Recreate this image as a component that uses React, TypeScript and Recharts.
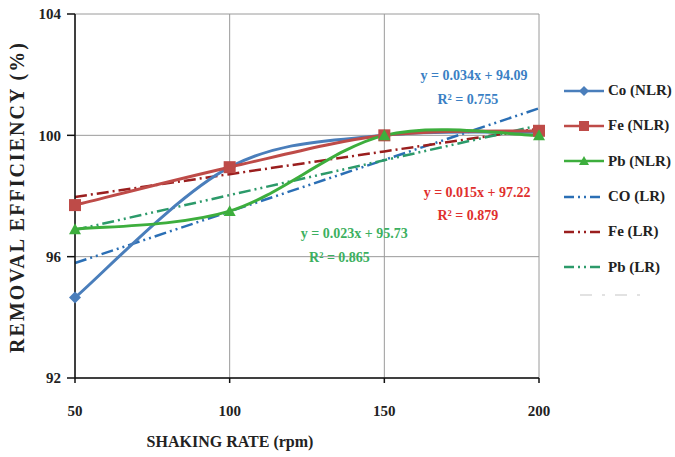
import React from 'react';
import { ComposedChart, Line, XAxis, YAxis, CartesianGrid, Legend, ReferenceDot } from 'recharts';

const shakingRate = [50, 100, 150, 200];
const coNLR = [94.65, 98.95, 100.0, 100.1];
const feNLR = [97.7, 98.95, 100.0, 100.15];
const pbNLR = [96.9, 97.5, 100.0, 100.0];
const coLR = [95.79, 97.49, 99.19, 100.89];
const feLR = [97.97, 98.72, 99.47, 100.22];
const pbLR = [96.88, 98.03, 99.18, 100.33];
const xTicks = [50, 100, 150, 200];
const yTicks = [92, 96, 100, 104];

const data = shakingRate.map((x, i) => ({
  x,
  coNLR: coNLR[i],
  feNLR: feNLR[i],
  pbNLR: pbNLR[i],
  coLR: coLR[i],
  feLR: feLR[i],
  pbLR: pbLR[i],
}));

const BLUE = '#4A7EBB';
const RED = '#BE4B48';
const GREEN = '#3DAE3D';
const CO_LR = '#2B6FB5';
const FE_LR = '#9A1E1E';
const PB_LR = '#2C9A6A';

const FONT = '"Liberation Serif", "Times New Roman", serif';

// Excel-style smoothed line (Catmull-Rom converted to cubic Bezier)
const excelCurve = (context: any) => {
  let pts: number[][] = [];
  return {
    areaStart() {},
    areaEnd() {},
    lineStart() {
      pts = [];
    },
    point(x: number, y: number) {
      pts.push([+x, +y]);
    },
    lineEnd() {
      if (!pts.length) return;
      context.moveTo(pts[0][0], pts[0][1]);
      for (let i = 0; i < pts.length - 1; i++) {
        const p0 = pts[i - 1] || pts[i];
        const p1 = pts[i];
        const p2 = pts[i + 1];
        const p3 = pts[i + 2] || pts[i + 1];
        const c1x = p1[0] + (p2[0] - p0[0]) / 6;
        const c1y = p1[1] + (p2[1] - p0[1]) / 6;
        const c2x = p2[0] - (p3[0] - p1[0]) / 6;
        const c2y = p2[1] - (p3[1] - p1[1]) / 6;
        context.bezierCurveTo(c1x, c1y, c2x, c2y, p2[0], p2[1]);
      }
    },
  };
};

const legendItems = [
  { label: 'Co (NLR)', color: BLUE, marker: 'diamond', dash: '' },
  { label: 'Fe (NLR)', color: RED, marker: 'square', dash: '' },
  { label: 'Pb (NLR)', color: GREEN, marker: 'triangle', dash: '' },
  { label: 'CO (LR)', color: CO_LR, marker: '', dash: '10 4 2 4 2 4' },
  { label: 'Fe (LR)', color: FE_LR, marker: '', dash: '10 4 2 4 2 4' },
  { label: 'Pb (LR)', color: PB_LR, marker: '', dash: '10 4 2 4 2 4' },
];

const MarkerShape = ({ kind, cx, cy, color, size }: any) => {
  const s = size;
  if (kind === 'diamond') {
    return <polygon points={`${cx},${cy - s} ${cx + s},${cy} ${cx},${cy + s} ${cx - s},${cy}`} fill={color} />;
  }
  if (kind === 'square') {
    return <rect x={cx - s} y={cy - s} width={2 * s} height={2 * s} fill={color} />;
  }
  if (kind === 'triangle') {
    return <polygon points={`${cx},${cy - s} ${cx + s},${cy + s * 0.8} ${cx - s},${cy + s * 0.8}`} fill={color} />;
  }
  return null;
};

const makeDot = (kind: string, color: string, size: number) => (props: any) => {
  const { cx, cy, index } = props;
  if (cx == null || cy == null) return <g key={index} />;
  return <g key={index}><MarkerShape kind={kind} cx={cx} cy={cy} color={color} size={size} /></g>;
};

const CustomLegend = () => (
  <div style={{ fontFamily: FONT, fontWeight: 'bold', fontSize: 15, color: '#222' }}>
    {legendItems.map((it) => (
      <div key={it.label} style={{ display: 'flex', alignItems: 'center', height: 35.3 }}>
        <svg width={44} height={16} style={{ marginRight: 2 }}>
          <line x1={2} y1={8} x2={42} y2={8} stroke={it.color} strokeWidth={2.5} strokeDasharray={it.dash || undefined} />
          {it.marker && <MarkerShape kind={it.marker} cx={22} cy={8} color={it.color} size={5} />}
        </svg>
        <span>{it.label}</span>
      </div>
    ))}
    <div style={{ display: 'flex', alignItems: 'center', height: 24 }}>
      <svg width={90} height={16}>
        <line x1={18} y1={6} x2={80} y2={6} stroke="#e2e2e2" strokeWidth={2} strokeDasharray="12 10 3 10" />
      </svg>
    </div>
  </div>
);

const eqLabel = (value: string, color: string) => ({
  value,
  position: 'center' as const,
  fill: color,
  fontFamily: FONT,
  fontWeight: 'bold',
  fontSize: 14,
});

export default function App() {
  return (
    <div style={{ position: 'absolute', left: 0, top: 0, background: '#fff' }}>
      <ComposedChart width={675} height={457} data={data} margin={{ top: 14, right: 23, bottom: 0, left: 0 }}>
        <CartesianGrid stroke="#9a9a9a" strokeWidth={1} />
        <XAxis
          dataKey="x"
          type="number"
          domain={[50, 200]}
          ticks={xTicks}
          height={79}
          stroke="#111"
          strokeWidth={1.5}
          tickSize={5}
          tickMargin={22}
          tick={{ fontFamily: FONT, fontWeight: 'bold', fontSize: 15, fill: '#222' }}
          label={{
            value: 'SHAKING RATE (rpm)',
            position: 'insideBottom',
            offset: 10,
            dx: -77,
            fontFamily: FONT,
            fontWeight: 'bold',
            fontSize: 16,
            fill: '#222',
          }}
        />
        <YAxis
          type="number"
          domain={[92, 104]}
          ticks={yTicks}
          stroke="#111"
          strokeWidth={1.5}
          tickSize={8}
          tickMargin={6}
          width={75}
          tick={{ fontFamily: FONT, fontWeight: 'bold', fontSize: 15, fill: '#222' }}
          label={{
            value: 'REMOVAL EFFICIENCY (%)',
            angle: -90,
            position: 'insideLeft',
            dx: 12,
            dy: 1,
            style: { textAnchor: 'middle', letterSpacing: 2 },
            fontFamily: FONT,
            fontWeight: 'bold',
            fontSize: 20,
            fill: '#222',
          }}
        />
        <Legend layout="vertical" align="right" verticalAlign="top" content={<CustomLegend />} wrapperStyle={{ left: 562, top: 73, width: 113 }} />
        <Line dataKey="coLR" stroke={CO_LR} strokeWidth={2.5} strokeDasharray="12 4 2 4 2 4" dot={false} isAnimationActive={false} legendType="none" />
        <Line dataKey="feLR" stroke={FE_LR} strokeWidth={2.5} strokeDasharray="12 4 2 4" dot={false} isAnimationActive={false} legendType="none" />
        <Line dataKey="pbLR" stroke={PB_LR} strokeWidth={2.5} strokeDasharray="12 4 2 4 2 4" dot={false} isAnimationActive={false} legendType="none" />
        <Line type={excelCurve as any} dataKey="coNLR" stroke={BLUE} strokeWidth={3} dot={makeDot('diamond', BLUE, 6)} isAnimationActive={false} />
        <Line type={excelCurve as any} dataKey="feNLR" stroke={RED} strokeWidth={3} dot={makeDot('square', RED, 6)} isAnimationActive={false} />
        <Line type={excelCurve as any} dataKey="pbNLR" stroke={GREEN} strokeWidth={3} dot={makeDot('triangle', GREEN, 6)} isAnimationActive={false} />
        <ReferenceDot x={179} y={101.99} r={0} fill="none" stroke="none" label={eqLabel('y = 0.034x + 94.09', '#3A7FC4')} />
        <ReferenceDot x={177} y={101.2} r={0} fill="none" stroke="none" label={eqLabel('R² = 0.755', '#3A7FC4')} />
        <ReferenceDot x={180} y={98.13} r={0} fill="none" stroke="none" label={eqLabel('y = 0.015x + 97.22', '#E0302E')} />
        <ReferenceDot x={177} y={97.37} r={0} fill="none" stroke="none" label={eqLabel('R² = 0.879', '#E0302E')} />
        <ReferenceDot x={140.3} y={96.78} r={0} fill="none" stroke="none" label={eqLabel('y = 0.023x + 95.73', '#3CB060')} />
        <ReferenceDot x={135.5} y={96.0} r={0} fill="none" stroke="none" label={eqLabel('R² = 0.865', '#3CB060')} />
      </ComposedChart>
    </div>
  );
}
